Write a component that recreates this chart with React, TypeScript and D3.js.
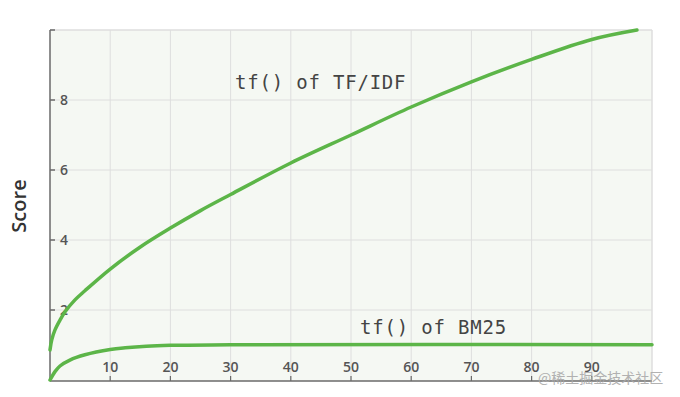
import React from "react";
import * as d3 from "d3";

const tfidfFreq = [0, 0.28, 0.83, 1.66, 2.5, 4.15, 5.8, 10, 15, 20, 25, 30, 40, 50, 60, 70, 80, 90, 97.5];
const tfidfScore = [0.86, 1.14, 1.43, 1.71, 1.95, 2.29, 2.55, 3.17, 3.8, 4.34, 4.84, 5.3, 6.2, 7.0, 7.8, 8.52, 9.16, 9.73, 10.0];
const bm25Freq = [0, 0.83, 1.66, 3.3, 5.8, 10, 12.5, 16, 20, 30, 100];
const bm25Score = [0, 0.24, 0.4, 0.57, 0.72, 0.87, 0.92, 0.965, 0.99, 1.01, 1.01];
const xTicks = [10, 20, 30, 40, 50, 60, 70, 80, 90];
const yTicks = [2, 4, 6, 8];

const W = 680, H = 397;
const left = 50, right = 652, top = 30, bottom = 380;

export default function App() {
  const x = d3.scaleLinear().domain([0, 100]).range([left, right]);
  const y = d3.scaleLinear().domain([0, 10]).range([bottom, top]);
  const line = d3.line<[number, number]>().x(d => x(d[0])).y(d => y(d[1])).curve(d3.curveCatmullRom.alpha(0.5));
  const tfidf = tfidfFreq.map((f, i) => [f, tfidfScore[i]] as [number, number]);
  const bm25 = bm25Freq.map((f, i) => [f, bm25Score[i]] as [number, number]);
  const green = "#5cb548";
  const mono = "'DejaVu Sans Mono', monospace";
  const sans = "'Open Sans', 'Noto Sans', sans-serif";
  return (
    <svg width={W} height={H} style={{ position: "absolute", left: 0, top: 0, background: "#fff" }}>
      <rect x={left} y={top} width={right - left} height={bottom - top + 1} fill="#f5f8f3" />
      {xTicks.map(t => (
        <line key={"gx" + t} x1={x(t)} x2={x(t)} y1={top} y2={bottom} stroke="#dedede" strokeWidth={1} />
      ))}
      {yTicks.map(t => (
        <line key={"gy" + t} x1={left} x2={right} y1={y(t)} y2={y(t)} stroke="#dedede" strokeWidth={1} />
      ))}
      <line x1={left} x2={right} y1={top} y2={top} stroke="#dedede" strokeWidth={1.5} />
      <line x1={right} x2={right} y1={top} y2={bottom} stroke="#dedede" strokeWidth={1.5} />
      <line x1={left} x2={left} y1={top} y2={bottom + 1} stroke="#6a6a6a" strokeWidth={1.5} />
      <line x1={left} x2={right} y1={bottom + 1} y2={bottom + 1} stroke="#6a6a6a" strokeWidth={1.5} />
      {[...yTicks, 10].map(t => (
        <line key={"ty" + t} x1={left} x2={left + 5} y1={y(t)} y2={y(t)} stroke="#6a6a6a" strokeWidth={1.5} />
      ))}
      {xTicks.map(t => (
        <line key={"tx" + t} x1={x(t)} x2={x(t)} y1={bottom + 1} y2={bottom - 4} stroke="#6a6a6a" strokeWidth={1.2} />
      ))}
      {yTicks.map(t => (
        <text key={"ly" + t} x={left + 10} y={y(t) + 5} fontFamily={sans} fontSize={14} fontWeight={600} fill="#555">{t}</text>
      ))}
      {xTicks.map(t => (
        <text key={"lx" + t} x={x(t)} y={bottom - 8} textAnchor="middle" fontFamily={sans} fontSize={14} fontWeight={600} fill="#555">{t}</text>
      ))}
      <path d={line(tfidf) || ""} fill="none" stroke={green} strokeWidth={3.5} strokeLinecap="round" />
      <path d={line(bm25) || ""} fill="none" stroke={green} strokeWidth={3.5} strokeLinecap="round" />
      <text x={235} y={89} fontFamily={mono} fontSize={19} letterSpacing={0.8} fill="#444">tf() of TF/IDF</text>
      <text x={360} y={334} fontFamily={mono} fontSize={19} letterSpacing={0.8} fill="#444">tf() of BM25</text>
      <text transform={`translate(26,206) rotate(-90)`} textAnchor="middle" fontFamily={sans} fontSize={20} fontWeight={600} fill="#333">Score</text>
      <text x={538} y={383} fontFamily="'Noto Sans CJK SC', sans-serif" fontSize={14} fill="#aaa" opacity={0.9}>@稀土掘金技术社区</text>
    </svg>
  );
}
